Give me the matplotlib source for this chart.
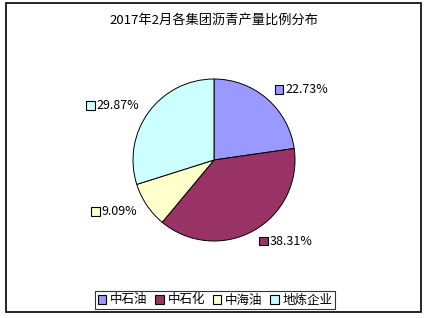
import matplotlib
matplotlib.use("Agg")
import numpy as np
import matplotlib.pyplot as plt
from matplotlib.patches import Rectangle
from matplotlib.offsetbox import AnnotationBbox, HPacker, TextArea, DrawingArea

plt.rcParams['font.family'] = ['Noto Sans CJK SC', 'DejaVu Sans']

title = "2017年2月各集团沥青产量比例分布"
groups = ["中石油", "中石化", "中海油", "地炼企业"]
shares = [22.73, 38.31, 9.09, 29.87]
colors = ["#9999FF", "#993366", "#FFFFCC", "#CCFFFF"]

W, H, DPI = 428, 318, 100
fig = plt.figure(figsize=(W / DPI, H / DPI), dpi=DPI)
fig.patch.set_facecolor("white")

# pie axes: centre (214,160) px, unit radius = 81 px
cx, cy, r, half = 214, 160, 81, 130
ax = fig.add_axes([(cx - half) / W, (H - cy - half) / H, 2 * half / W, 2 * half / H])
wedges, _ = ax.pie(shares, colors=colors, startangle=90, counterclock=False,
                   radius=1.0,
                   wedgeprops=dict(edgecolor="black", linewidth=0.7))
lim = half / r
ax.set_xlim(-lim, lim)
ax.set_ylim(-lim, lim)
ax.set_aspect("equal")
ax.set_axis_off()

# percentage labels with colour keys
for w, val, col in zip(wedges, shares, colors):
    mid = np.deg2rad((w.theta1 + w.theta2) / 2)
    x, y = np.cos(mid), np.sin(mid)
    da = DrawingArea(6, 6, 0, 0)
    da.add_artist(Rectangle((0, 0), 6, 6, fc=col, ec="black", lw=0.8))
    ta = TextArea(f"{val:.2f}%", textprops=dict(fontsize=9, color="black"))
    box = HPacker(children=[da, ta], align="center", pad=0, sep=1.5)
    rad = 1.15 if x > 0 else 1.14
    align = (0, 0.5) if x > 0 else (1, 0.5)
    ab = AnnotationBbox(box, (rad * x, rad * y), xycoords="data",
                        box_alignment=align, frameon=False, pad=0)
    ax.add_artist(ab)

fig.text(cx / W, 1 - 20 / H, title, ha="center", va="center", fontsize=9.5)

leg = fig.legend(wedges, groups, loc="center", bbox_to_anchor=(215 / W, 1 - 300 / H),
                 ncol=4, fontsize=9, frameon=True, fancybox=False, shadow=False,
                 handlelength=0.7, handleheight=0.7, handletextpad=0.3,
                 columnspacing=0.6, borderpad=0.2, borderaxespad=0)
leg.get_frame().set_edgecolor("black")
leg.get_frame().set_linewidth(0.8)
for h in leg.legend_handles:
    h.set_edgecolor("black")
    h.set_linewidth(0.8)

# outer chart border
fig.add_artist(Rectangle((6 / W, 1 - 312 / H), (421 - 6) / W, (312 - 3) / H,
                         transform=fig.transFigure, fill=False,
                         ec="black", lw=1.2))

fig.savefig("out.png", dpi=DPI, facecolor="white")
